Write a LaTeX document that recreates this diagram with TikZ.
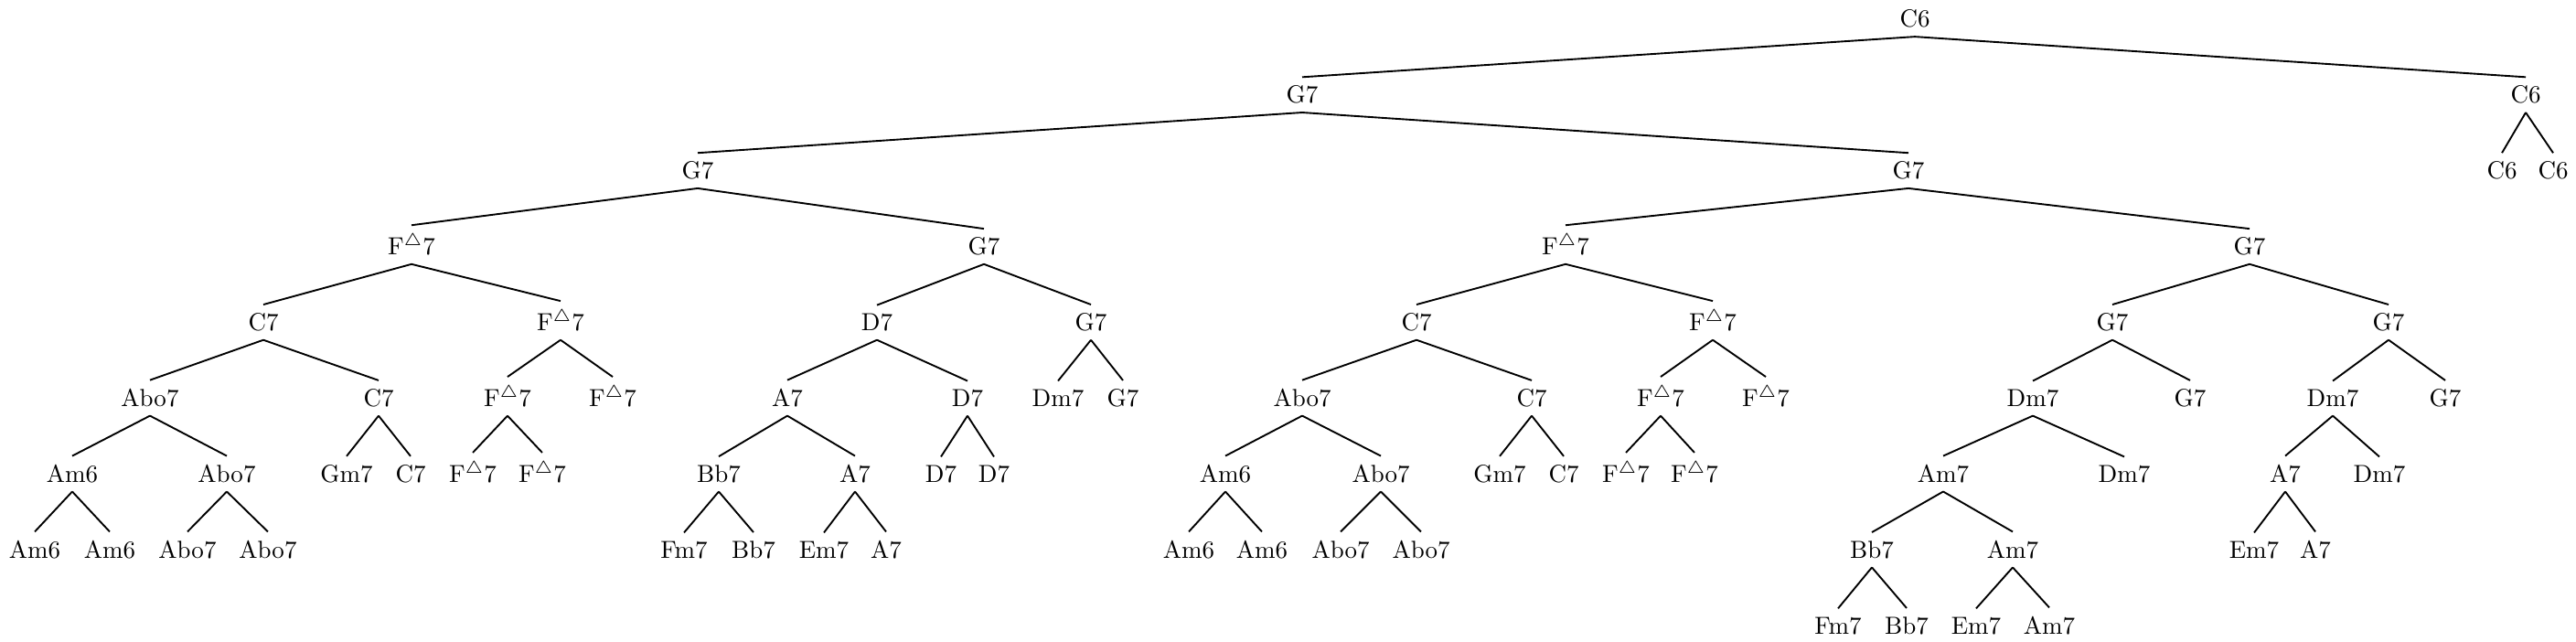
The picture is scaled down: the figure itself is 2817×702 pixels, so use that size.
\documentclass[tikz,border=0pt]{standalone}
\begin{document}
\begin{tikzpicture}[x=0.37037pt,y=-0.37037pt,
  t/.style={anchor=base,inner sep=3.33pt},
  edge/.style={line width=0.7pt}]
\useasboundingbox (0,0) rectangle (2817,702);
\newcommand{\Fd}{F$^{\triangle}$7}
% level 0
\node[t] (n) at (2094,30) {C6};
% level 1
\node[t] (n1) at (1424,112.9) {G7};
\node[t] (n2) at (2762,112.9) {C6};
% level 2
\node[t] (n11) at (763,195.8) {G7};
\node[t] (n12) at (2087,195.8) {G7};
\node[t] (n21) at (2736,195.8) {C6};
\node[t] (n22) at (2792,195.8) {C6};
% level 3
\node[t] (n111) at (450,278.7) {\Fd};
\node[t] (n112) at (1076,278.7) {G7};
\node[t] (n121) at (1712,278.7) {\Fd};
\node[t] (n122) at (2460,278.7) {G7};
% level 4
\node[t] (n1111) at (288,361.6) {C7};
\node[t] (n1112) at (613,361.6) {\Fd};
\node[t] (n1121) at (959,361.6) {D7};
\node[t] (n1122) at (1193,361.6) {G7};
\node[t] (n1211) at (1549,361.6) {C7};
\node[t] (n1212) at (1873,361.6) {\Fd};
\node[t] (n1221) at (2310,361.6) {G7};
\node[t] (n1222) at (2612,361.6) {G7};
% level 5
\node[t] (n11111) at (164,444.5) {Abo7};
\node[t] (n11112) at (414,444.5) {C7};
\node[t] (n11121) at (555,444.5) {\Fd};
\node[t] (n11122) at (670,444.5) {\Fd};
\node[t] (n11211) at (861,444.5) {A7};
\node[t] (n11212) at (1058,444.5) {D7};
\node[t] (n11221) at (1157,444.5) {Dm7};
\node[t] (n11222) at (1228,444.5) {G7};
\node[t] (n12111) at (1424,444.5) {Abo7};
\node[t] (n12112) at (1675,444.5) {C7};
\node[t] (n12121) at (1816,444.5) {\Fd};
\node[t] (n12122) at (1931,444.5) {\Fd};
\node[t] (n12211) at (2223,444.5) {Dm7};
\node[t] (n12212) at (2395,444.5) {G7};
\node[t] (n12221) at (2551,444.5) {Dm7};
\node[t] (n12222) at (2674,444.5) {G7};
% level 6
\node[t] (n111111) at (79,527.4) {Am6};
\node[t] (n111112) at (248,527.4) {Abo7};
\node[t] (n111121) at (379,527.4) {Gm7};
\node[t] (n111122) at (449,527.4) {C7};
\node[t] (n111211) at (517,527.4) {\Fd};
\node[t] (n111212) at (593,527.4) {\Fd};
\node[t] (n112111) at (786,527.4) {Bb7};
\node[t] (n112112) at (935,527.4) {A7};
\node[t] (n112121) at (1029,527.4) {D7};
\node[t] (n112122) at (1087,527.4) {D7};
\node[t] (n121111) at (1340,527.4) {Am6};
\node[t] (n121112) at (1510,527.4) {Abo7};
\node[t] (n121121) at (1640,527.4) {Gm7};
\node[t] (n121122) at (1710,527.4) {C7};
\node[t] (n121211) at (1778,527.4) {\Fd};
\node[t] (n121212) at (1853,527.4) {\Fd};
\node[t] (n122111) at (2125,527.4) {Am7};
\node[t] (n122112) at (2323,527.4) {Dm7};
\node[t] (n122211) at (2499,527.4) {A7};
\node[t] (n122212) at (2602,527.4) {Dm7};
% level 7
\node[t] (n1111111) at (38,610.3) {Am6};
\node[t] (n1111112) at (120,610.3) {Am6};
\node[t] (n1111121) at (205,610.3) {Abo7};
\node[t] (n1111122) at (293,610.3) {Abo7};
\node[t] (n1121111) at (748,610.3) {Fm7};
\node[t] (n1121112) at (824,610.3) {Bb7};
\node[t] (n1121121) at (901,610.3) {Em7};
\node[t] (n1121122) at (969,610.3) {A7};
\node[t] (n1211111) at (1300,610.3) {Am6};
\node[t] (n1211112) at (1380,610.3) {Am6};
\node[t] (n1211121) at (1466,610.3) {Abo7};
\node[t] (n1211122) at (1554,610.3) {Abo7};
\node[t] (n1221111) at (2047,610.3) {Bb7};
\node[t] (n1221112) at (2201,610.3) {Am7};
\node[t] (n1222111) at (2465,610.3) {Em7};
\node[t] (n1222112) at (2532,610.3) {A7};
% level 8
\node[t] (n12211111) at (2010,693.2) {Fm7};
\node[t] (n12211112) at (2085,693.2) {Bb7};
\node[t] (n12211121) at (2161,693.2) {Em7};
\node[t] (n12211122) at (2241,693.2) {Am7};
% edges
\foreach \p/\c in {n/n1,n/n2,n1/n11,n1/n12,n2/n21,n2/n22,
  n11/n111,n11/n112,n12/n121,n12/n122,
  n111/n1111,n111/n1112,n112/n1121,n112/n1122,n121/n1211,n121/n1212,n122/n1221,n122/n1222,
  n1111/n11111,n1111/n11112,n1112/n11121,n1112/n11122,n1121/n11211,n1121/n11212,n1122/n11221,n1122/n11222,
  n1211/n12111,n1211/n12112,n1212/n12121,n1212/n12122,n1221/n12211,n1221/n12212,n1222/n12221,n1222/n12222,
  n11111/n111111,n11111/n111112,n11112/n111121,n11112/n111122,n11121/n111211,n11121/n111212,
  n11211/n112111,n11211/n112112,n11212/n112121,n11212/n112122,
  n12111/n121111,n12111/n121112,n12112/n121121,n12112/n121122,n12121/n121211,n12121/n121212,
  n12211/n122111,n12211/n122112,n12221/n122211,n12221/n122212,
  n111111/n1111111,n111111/n1111112,n111112/n1111121,n111112/n1111122,
  n112111/n1121111,n112111/n1121112,n112112/n1121121,n112112/n1121122,
  n121111/n1211111,n121111/n1211112,n121112/n1211121,n121112/n1211122,
  n122111/n1221111,n122111/n1221112,n122211/n1222111,n122211/n1222112,
  n1221111/n12211111,n1221111/n12211112,n1221112/n12211121,n1221112/n12211122}
  \draw[edge] (\p.south) -- (\c.north);
\end{tikzpicture}
\end{document}
